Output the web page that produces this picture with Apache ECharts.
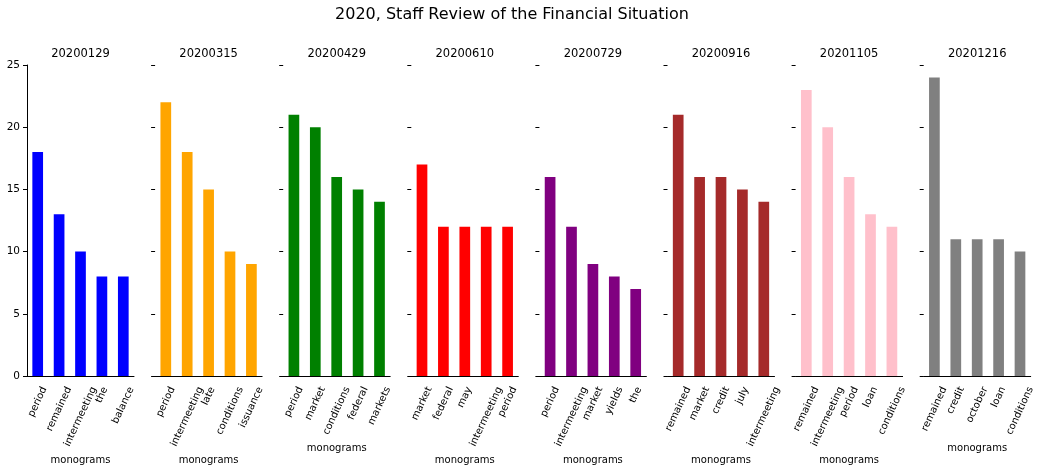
<!DOCTYPE html>
<html>
<head>
<meta charset="utf-8">
<script src="https://cdn.jsdelivr.net/npm/echarts@6/dist/echarts.min.js"></script>
<style>
html, body { margin: 0; padding: 0; background: #fff; }
#chart-1 { width: 1043px; height: 467px; }
</style>
</head>
<body>
<div id="chart-1"></div>
<script>
var dates = ['20200129', '20200315', '20200429', '20200610', '20200729', '20200916', '20201105', '20201216'];

var words0 = ['period', 'remained', 'intermeeting', 'the', 'balance'];
var counts0 = [18, 13, 10, 8, 8];
var words1 = ['period', 'intermeeting', 'late', 'conditions', 'issuance'];
var counts1 = [22, 18, 15, 10, 9];
var words2 = ['period', 'market', 'conditions', 'federal', 'markets'];
var counts2 = [21, 20, 16, 15, 14];
var words3 = ['market', 'federal', 'may', 'intermeeting', 'period'];
var counts3 = [17, 12, 12, 12, 12];
var words4 = ['period', 'intermeeting', 'market', 'yields', 'the'];
var counts4 = [16, 12, 9, 8, 7];
var words5 = ['remained', 'market', 'credit', 'july', 'intermeeting'];
var counts5 = [21, 16, 16, 15, 14];
var words6 = ['remained', 'intermeeting', 'period', 'loan', 'conditions'];
var counts6 = [23, 20, 16, 13, 12];
var words7 = ['remained', 'credit', 'october', 'loan', 'conditions'];
var counts7 = [24, 11, 11, 11, 10];

var words = [words0, words1, words2, words3, words4, words5, words6, words7];
var counts = [counts0, counts1, counts2, counts3, counts4, counts5, counts6, counts7];
var colors = ['#0000ff', '#ffa500', '#008000', '#ff0000', '#800080', '#a52a2a', '#ffc0cb', '#808080'];

var dom = document.getElementById('chart-1');
var myChart = echarts.init(dom);

var font = 'DejaVu Sans';
var labelSize = 10;
var ctx = document.createElement('canvas').getContext('2d');
ctx.font = labelSize + 'px "' + font + '"';

var rot = 65 * Math.PI / 180;
// matplotlib centres the rotated label box under its tick; echarts pins the
// text end there, so each label gets padding (in its own frame) to drop it straight down
function labelRich(list) {
    var rich = {};
    list.forEach(function (w, k) {
        var L = ctx.measureText(w).width;
        var h = labelSize * 1.17;
        var boxH = L * Math.sin(rot) + h * Math.cos(rot);
        var d = 9 + boxH / 2;
        rich['p' + k] = {
            fontFamily: font,
            fontSize: labelSize,
            color: '#000',
            padding: [2 * d * Math.cos(rot), 2 * d * Math.sin(rot), 0, 0]
        };
    });
    return rich;
}

var grids = [], xAxes = [], yAxes = [], series = [];
var titles = [{
    text: '2020, Staff Review of the Financial Situation',
    left: 512,
    top: 7,
    padding: 0,
    textAlign: 'center',
    textStyle: { fontFamily: font, fontSize: 16, fontWeight: 'normal', color: '#000' }
}];

dates.forEach(function (d, i) {
    var left = 27 + 128.1 * i;
    // fixed plot boxes; don't let echarts shrink them to fit the padded labels
    grids.push({ left: left, top: 65, width: 107, height: 311, outerBoundsMode: 'none', containLabel: false });
    titles.push({
        text: d,
        left: left + 53.5,
        top: 48,
        padding: 0,
        textAlign: 'center',
        textStyle: { fontFamily: font, fontSize: 11.5, fontWeight: 'normal', color: '#000' }
    });
    // the longer the rotated labels, the lower matplotlib puts the axis name
    var longest = Math.max.apply(null, words[i].map(function (w) { return w.length; }));
    xAxes.push({
        type: 'category',
        gridIndex: i,
        data: words[i],
        name: 'monograms',
        nameLocation: 'middle',
        nameGap: longest > 10 ? 72 : 59,
        nameTextStyle: { fontFamily: font, fontSize: 10, color: '#000' },
        axisLine: { lineStyle: { color: '#000', width: 1 } },
        axisTick: { alignWithLabel: true, length: 4, lineStyle: { color: '#000' } },
        axisLabel: {
            rotate: 65,
            interval: 0,
            align: 'center',
            verticalAlign: 'middle',
            margin: 0,
            fontFamily: font,
            fontSize: labelSize,
            color: '#000',
            formatter: function (v, k) { return '{p' + k + '|' + v + '}'; },
            rich: labelRich(words[i])
        },
        splitLine: { show: false }
    });
    yAxes.push({
        type: 'value',
        gridIndex: i,
        min: 0,
        max: 25,
        interval: 5,
        axisLine: { show: i === 0, lineStyle: { color: '#000', width: 1 } },
        axisTick: { show: true, length: 4, lineStyle: { color: '#000' } },
        axisLabel: { show: i === 0, fontFamily: font, fontSize: 10.5, color: '#000', margin: 7 },
        splitLine: { show: false }
    });
    series.push({
        type: 'bar',
        xAxisIndex: i,
        yAxisIndex: i,
        barWidth: '50%',
        itemStyle: { color: colors[i] },
        data: counts[i]
    });
});

var option = {
    backgroundColor: '#fff',
    animation: false,
    title: titles,
    grid: grids,
    xAxis: xAxes,
    yAxis: yAxes,
    series: series
};
myChart.setOption(option, true);
</script>
</body>
</html>
